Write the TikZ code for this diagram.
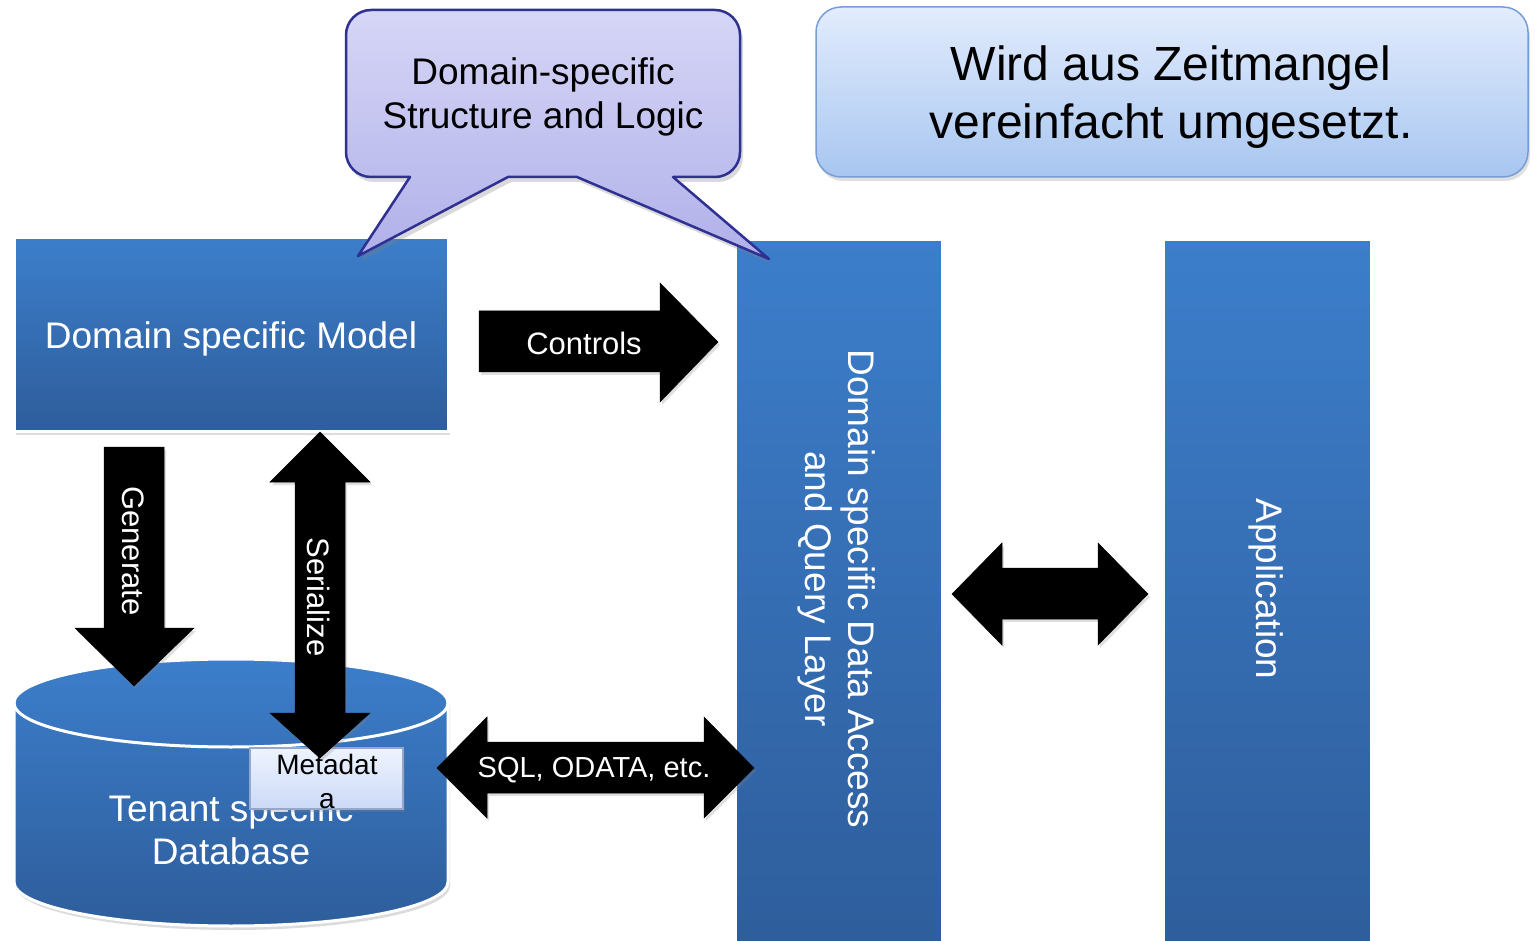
\documentclass[tikz,border=0pt]{standalone}
\usepackage{fontspec}
\setmainfont{Liberation Sans}
\usetikzlibrary{shadows}

\definecolor{bluetop}{RGB}{60,126,203}
\definecolor{bluemid}{RGB}{56,116,190}
\definecolor{bluebot}{RGB}{46,93,155}
\definecolor{calltop}{RGB}{214,214,247}
\definecolor{callbot}{RGB}{176,176,233}
\definecolor{callline}{RGB}{46,49,146}
\definecolor{notetop}{RGB}{226,236,253}
\definecolor{notebot}{RGB}{168,198,240}
\definecolor{noteline}{RGB}{118,158,214}
\definecolor{metatop}{RGB}{238,243,254}
\definecolor{metabot}{RGB}{204,218,247}
\definecolor{metaline}{RGB}{148,168,204}

\tikzset{
  softshadow/.style={drop shadow={opacity=0.28, shadow xshift=2pt, shadow yshift=-4pt}},
  bluefill/.style={draw=white, line width=3pt, top color=bluetop, middle color=bluemid, bottom color=bluebot},
  bluebox/.style={bluefill, softshadow, rectangle, inner sep=0pt},
  whitetext/.style={text=white, font=\fontsize{37}{43}\selectfont, align=center},
  arrowtext/.style={text=white, font=\fontsize{31}{36}\selectfont},
  blockarrow/.style={fill=black, draw=black, line width=0.5pt, line join=miter,
    drop shadow={opacity=0.25, shadow xshift=2pt, shadow yshift=-3pt}},
  callout/.style={draw=callline, line width=2.5pt, line join=round, top color=calltop, bottom color=callbot,
    drop shadow={opacity=0.3, shadow xshift=3pt, shadow yshift=-5pt}},
  notebox/.style={draw=noteline, line width=1.5pt, rounded corners=25pt, top color=notetop, bottom color=notebot,
    drop shadow={opacity=0.25, shadow xshift=2pt, shadow yshift=-4pt}},
  metabox/.style={draw=metaline, line width=1.5pt, top color=metatop, bottom color=metabot,
    drop shadow={opacity=0.25, shadow xshift=2pt, shadow yshift=-3pt}},
}

\begin{document}
\begin{tikzpicture}[x=1pt,y=-1pt]
\useasboundingbox (0,0) rectangle (1535,941);

% layer columns
\node[bluebox, minimum width=207pt, minimum height=712pt, anchor=north] (dal) at (838.5,238) {};
\node[bluebox, minimum width=208pt, minimum height=712pt, anchor=north] (app) at (1267,238) {};
\node[whitetext, rotate=-90] (daltext) at (836.5,589) {Domain specific Data Access\\and Query Layer};
\node[whitetext, rotate=-90] (apptext) at (1266,589) {Application};

% model box
\node[bluebox, minimum width=434pt, minimum height=193pt] (model) at (231,334.5) {};
\node[whitetext] (modeltext) at (231,339) {Domain specific Model};

% tenant database cylinder
\path[bluefill, softshadow]
  (14,703) -- (14,882) arc[x radius=217, y radius=44, start angle=180, end angle=0]
  -- (448,703) arc[x radius=217, y radius=44, start angle=0, end angle=-180] -- cycle;
\draw[white, line width=3pt] (14,703) arc[x radius=217, y radius=44, start angle=180, end angle=0];
\node[whitetext] (dbtext) at (231,830) {Tenant specific\\Database};

% metadata box
\node[metabox, minimum width=153pt, minimum height=61pt] (meta) at (326.5,778.5) {};
\node[font=\fontsize{28}{34}\selectfont, align=center] (metatext) at (327,781) {Metadat\\a};

% block arrows
\path[blockarrow] (479,311) -- (660,311) -- (660,283) -- (718,342) -- (660,402) -- (660,372) -- (479,372) -- cycle;
\node[arrowtext] (controls) at (584,343) {Controls};

\path[blockarrow] (952,594) -- (1002,543) -- (1002,568) -- (1098,568) -- (1098,543) -- (1148,594)
  -- (1098,645) -- (1098,619) -- (1002,619) -- (1002,645) -- cycle;

\path[blockarrow] (104,447) -- (164,447) -- (164,628) -- (194,628) -- (134,686) -- (75,628) -- (104,628) -- cycle;
\node[arrowtext, rotate=-90] (generate) at (133,551) {Generate};

\path[blockarrow] (320,432) -- (370,482) -- (345,482) -- (345,713) -- (370,713) -- (320,758)
  -- (270,713) -- (295,713) -- (295,482) -- (270,482) -- cycle;
\node[arrowtext, rotate=-90] (serialize) at (319,597) {Serialize};

\path[blockarrow] (437,768) -- (487,717) -- (487,742) -- (704,742) -- (704,717) -- (754,768)
  -- (704,818) -- (704,793) -- (487,793) -- (487,818) -- cycle;
\node[text=white, font=\fontsize{29}{34}\selectfont] (sql) at (594,770) {SQL, ODATA, etc.};

% callout with two pointers
\path[callout] (410,177) -- (358,256) -- (508,177) -- (577,177) -- (769,259) -- (673,177) -- (715,177)
  arc[radius=25, start angle=90, end angle=0] -- (740,35)
  arc[radius=25, start angle=0, end angle=-90] -- (371,10)
  arc[radius=25, start angle=-90, end angle=-180] -- (346,152)
  arc[radius=25, start angle=180, end angle=90] -- cycle;
\node[font=\fontsize{37}{44}\selectfont, align=center] (calltext) at (543,97) {Domain-specific\\Structure and Logic};

% note box
\node[notebox, minimum width=712pt, minimum height=170pt] (note) at (1172,92) {};
\node[font=\fontsize{48}{58}\selectfont, align=center] (notetext) at (1171,97) {Wird aus Zeitmangel\\vereinfacht umgesetzt.};
\end{tikzpicture}
\end{document}
